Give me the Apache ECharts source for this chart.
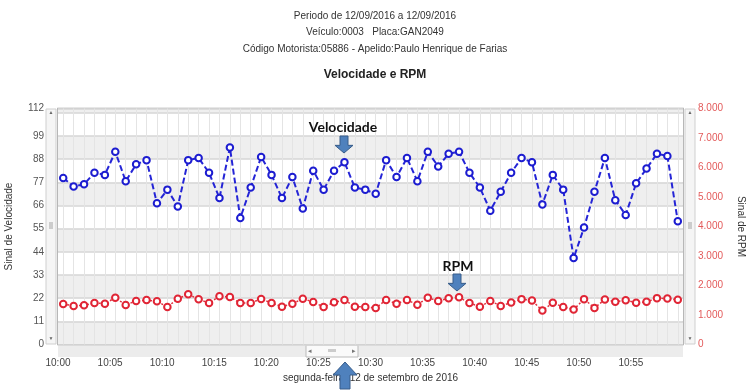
<!DOCTYPE html>
<html>
<head>
<meta charset="utf-8">
<script src="https://cdn.jsdelivr.net/npm/echarts@6/dist/echarts.min.js"></script>
<style>html,body{margin:0;padding:0;background:#fff}#c{width:750px;height:390px}</style>
</head>
<body>
<div id="c"></div>
<script>
// Minute categories (one reading per minute)
var times = ['10:00','10:01','10:02','10:03','10:04','10:05','10:06','10:07','10:08','10:09',
  '10:10','10:11','10:12','10:13','10:14','10:15','10:16','10:17','10:18','10:19',
  '10:20','10:21','10:22','10:23','10:24','10:25','10:26','10:27','10:28','10:29',
  '10:30','10:31','10:32','10:33','10:34','10:35','10:36','10:37','10:38','10:39',
  '10:40','10:41','10:42','10:43','10:44','10:45','10:46','10:47','10:48','10:49',
  '10:50','10:51','10:52','10:53','10:54','10:55','10:56','10:57','10:58','10:59'];

// Velocidade (left axis)
var velocidade = [79,75,76,81.5,80.5,91.5,77.5,85.5,87.5,67,
  73.5,65.5,87.5,88.5,81.5,69.5,93.5,60,74.5,89,
  80.5,69.5,79.5,64.5,82.5,73.5,82.5,86.5,74.5,73.5,
  71.5,87.5,79.5,88.5,77.5,91.5,84.5,90.5,91.5,81.5,
  74.5,63.5,72.5,81.5,88.5,86.5,66.5,80.5,73.5,41,
  55.5,72.5,88.5,68.5,61.5,76.5,83.5,90.5,89.5,58.5];

// RPM (right axis)
var rpm = [1374,1306,1330,1408,1385,1588,1340,1476,1509,1465,
  1272,1554,1700,1533,1408,1634,1611,1408,1410,1544,
  1408,1283,1385,1554,1442,1272,1430,1509,1283,1272,
  1238,1509,1385,1509,1351,1588,1476,1566,1600,1408,
  1283,1478,1309,1422,1538,1490,1149,1412,1275,1183,
  1538,1241,1524,1446,1504,1412,1446,1572,1558,1514];

// Tick labels
var xTickLabels = ['10:00','10:05','10:10','10:15','10:20','10:25','10:30','10:35','10:40','10:45','10:50','10:55'];
var titleLines = ['Periodo de 12/09/2016 a 12/09/2016','Veículo:0003   Placa:GAN2049','Código Motorista:05886 - Apelido:Paulo Henrique de Farias'];
var chartTitle = 'Velocidade e RPM';
var dateLabel = 'segunda-feira, 12 de setembro de 2016';

var font = 'Liberation Sans, Arial, sans-serif';
var chart = echarts.init(document.getElementById('c'), null, {renderer: 'canvas'});

function downArrow(cx, top, h) {
  var hw = 9, sw = 4, headH = h * 0.45;
  return [[cx - sw, top], [cx + sw, top], [cx + sw, top + h - headH], [cx + hw, top + h - headH],
          [cx, top + h], [cx - hw, top + h - headH], [cx - sw, top + h - headH]];
}
function upArrow(cx, top, h) {
  var hw = 12, sw = 5, headH = 13;
  return [[cx, top], [cx + hw, top + headH], [cx + sw, top + headH], [cx + sw, top + h],
          [cx - sw, top + h], [cx - sw, top + headH], [cx - hw, top + headH]];
}
var arrowStyle = {fill: '#4f81bd', stroke: '#385d8a', lineWidth: 1};

var option = {
  backgroundColor: '#fff',
  animation: false,
  title: [
    {text: titleLines[0], left: 'center', top: 6, textStyle: {fontFamily: font, fontSize: 10, fontWeight: 'normal', color: '#333'}},
    {text: titleLines[1], left: 'center', top: 22, textStyle: {fontFamily: font, fontSize: 10, fontWeight: 'normal', color: '#333'}},
    {text: titleLines[2], left: 'center', top: 39, textStyle: {fontFamily: font, fontSize: 10, fontWeight: 'normal', color: '#333'}},
    {text: chartTitle, left: 'center', top: 64, textStyle: {fontFamily: font, fontSize: 12, fontWeight: 'bold', color: '#222'}}
  ],
  grid: {left: 58, right: 67, top: 108.5, bottom: 45.5, outerBoundsMode: 'none', containLabel: false,
    show: true, borderColor: '#a0a0a0', borderWidth: 1.5, backgroundColor: 'transparent'},
  xAxis: [
    {
      type: 'category', data: times, boundaryGap: true,
      axisLine: {show: false}, axisTick: {show: false, alignWithLabel: true}, axisLabel: {show: false},
      splitLine: {show: true, interval: 0, alignWithLabel: true, lineStyle: {color: '#e4e4e4', width: 1}}
    },
    {
      type: 'value', min: 0, max: 60, interval: 5, position: 'bottom',
      axisLine: {show: false}, axisTick: {show: false}, splitLine: {show: false},
      axisLabel: {margin: 14, fontFamily: font, fontSize: 10, color: '#444',
        formatter: function (v) { return xTickLabels[v / 5] || ''; }},
      name: dateLabel, nameLocation: 'middle', nameGap: 29,
      nameTextStyle: {fontFamily: font, fontSize: 10, color: '#333'}
    }
  ],
  yAxis: [
    {
      type: 'value', min: 0, max: 112, interval: 11,
      axisLine: {show: false}, axisTick: {show: false},
      axisLabel: {margin: 14, fontFamily: font, fontSize: 10, color: '#555', showMaxLabel: true, hideOverlap: false},
      splitLine: {show: true, lineStyle: {color: '#d6d6d6', width: 1.5}},
      splitArea: {show: true, areaStyle: {color: ['#efefef', '#ffffff']}},
      name: 'Sinal de Velocidade', nameLocation: 'middle', nameGap: 44, nameRotate: 90,
      nameTextStyle: {fontFamily: font, fontSize: 10, color: '#333'}
    },
    {
      type: 'value', min: 0, max: 8000, interval: 1000, position: 'right',
      axisLine: {show: false}, axisTick: {show: false}, splitLine: {show: false},
      axisLabel: {margin: 15, fontFamily: font, fontSize: 10, color: '#e35a5a',
        formatter: function (v) { return v === 0 ? '0' : (v / 1000) + '.000'; }},
      name: 'Sinal de RPM', nameLocation: 'middle', nameGap: 53, nameRotate: -90,
      nameTextStyle: {fontFamily: font, fontSize: 10, color: '#333'}
    }
  ],
  series: [
    {
      name: 'Velocidade', type: 'line', xAxisIndex: 0, yAxisIndex: 0, data: velocidade,
      symbol: 'circle', symbolSize: 6.5, showAllSymbol: true,
      lineStyle: {color: '#2424d6', width: 2, type: [6, 3]},
      itemStyle: {color: '#ffffff', borderColor: '#1c1cd0', borderWidth: 2},
      z: 5
    },
    {
      name: 'RPM', type: 'line', xAxisIndex: 0, yAxisIndex: 1, data: rpm,
      symbol: 'circle', symbolSize: 6.5, showAllSymbol: true,
      lineStyle: {color: '#e0303f', width: 1.5, type: [2, 2]},
      itemStyle: {color: '#ffffff', borderColor: '#e02535', borderWidth: 2},
      z: 5
    }
  ],
  graphic: [
    // left scrollbar
    {type: 'rect', shape: {x: 46, y: 109, width: 10, height: 235}, style: {fill: '#f5f5f5', stroke: '#cfcfcf', lineWidth: 1}, silent: true},
    {type: 'text', style: {x: 51, y: 113, text: '▲', fill: '#666', font: '5px sans-serif', align: 'center', verticalAlign: 'middle'}},
    {type: 'text', style: {x: 51, y: 339, text: '▼', fill: '#666', font: '5px sans-serif', align: 'center', verticalAlign: 'middle'}},
    {type: 'rect', shape: {x: 49, y: 222, width: 4, height: 7}, style: {fill: '#ccc'}},
    // right scrollbar
    {type: 'rect', shape: {x: 685, y: 109, width: 10, height: 235}, style: {fill: '#f5f5f5', stroke: '#cfcfcf', lineWidth: 1}, silent: true},
    {type: 'text', style: {x: 690, y: 113, text: '▲', fill: '#666', font: '5px sans-serif', align: 'center', verticalAlign: 'middle'}},
    {type: 'text', style: {x: 690, y: 339, text: '▼', fill: '#666', font: '5px sans-serif', align: 'center', verticalAlign: 'middle'}},
    {type: 'rect', shape: {x: 688, y: 222, width: 4, height: 7}, style: {fill: '#ccc'}},
    // bottom scrollbar
    {type: 'rect', shape: {x: 58, y: 345, width: 625, height: 12}, style: {fill: '#ececec'}, silent: true},
    {type: 'rect', shape: {x: 306, y: 345, width: 52, height: 12}, style: {fill: '#fafafa', stroke: '#bbb', lineWidth: 1}},
    {type: 'text', style: {x: 310, y: 351, text: '◂', fill: '#777', font: '7px sans-serif', align: 'center', verticalAlign: 'middle'}},
    {type: 'text', style: {x: 354, y: 351, text: '▸', fill: '#777', font: '7px sans-serif', align: 'center', verticalAlign: 'middle'}},
    {type: 'rect', shape: {x: 328, y: 349, width: 8, height: 3}, style: {fill: '#ccc'}},
    // annotations
    {type: 'text', z: 20, style: {x: 343, y: 127, text: 'Velocidade', fill: '#111', font: 'bold 14px Lato, "Open Sans", sans-serif', align: 'center', verticalAlign: 'middle'}},
    {type: 'polygon', z: 20, shape: {points: downArrow(344, 136, 17)}, style: arrowStyle},
    {type: 'text', z: 20, style: {x: 458, y: 266, text: 'RPM', fill: '#111', font: 'bold 14px Lato, "Open Sans", sans-serif', align: 'center', verticalAlign: 'middle'}},
    {type: 'polygon', z: 20, shape: {points: downArrow(457, 274, 17)}, style: arrowStyle},
    {type: 'polygon', z: 20, shape: {points: upArrow(345, 362, 27)}, style: arrowStyle}
  ]
};
chart.setOption(option);
</script>
</body>
</html>
